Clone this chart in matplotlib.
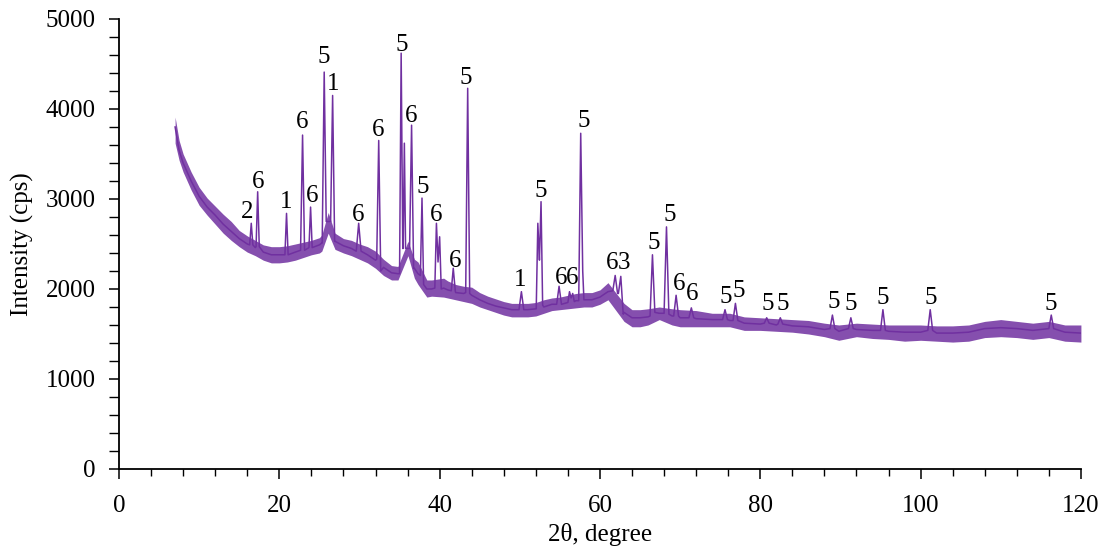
import matplotlib
matplotlib.use("Agg")
import matplotlib.pyplot as plt
from matplotlib.ticker import MultipleLocator

plt.rcParams['font.family'] = ['Liberation Serif', 'DejaVu Serif']

# ---- background (noise band) ----
bg_x = [7.0, 7.5, 8, 9, 10, 11, 12, 13, 14, 15, 16, 17, 18, 19, 20, 21, 22, 23, 24, 25,
        25.3, 26.1, 26.95, 28, 29, 30, 31, 32, 33, 34, 34.8, 36.05, 36.85, 37.3, 38.4, 39,
        40.5, 41, 42, 43,
        44, 45, 46, 47, 48, 49, 50, 51, 52, 53, 54, 55, 56, 57, 58, 59, 60, 61, 63,
        64, 65, 66, 67.4, 69, 70, 72, 74, 76.2, 78, 80, 82, 84, 86, 88, 89.8, 92, 94,
        96, 98, 100, 102, 104, 106, 108, 110, 112, 114, 116, 118, 120]
bg_mid = [3800, 3540, 3400, 3200, 3030, 2910, 2820, 2720, 2640, 2560, 2500, 2460, 2410,
          2380, 2380, 2390, 2410, 2440, 2460, 2490, 2510, 2750, 2530, 2480, 2450, 2420,
          2380, 2320, 2240, 2180, 2170, 2450, 2230, 2170, 2000, 2000, 2010, 1990, 1960,
          1950, 1930,
          1880, 1840, 1810, 1790, 1770, 1770, 1770, 1780, 1800, 1830, 1840, 1850, 1870,
          1880, 1880, 1910, 1970, 1740, 1680, 1680, 1690, 1730, 1700, 1680, 1670, 1660,
          1650, 1620, 1610, 1600, 1590, 1580, 1550, 1530, 1550, 1540, 1530, 1520, 1520,
          1510, 1510, 1520, 1560, 1570, 1560, 1540, 1560, 1520, 1510]
bg_lo = [3620, 3430, 3300, 3100, 2930, 2820, 2720, 2620, 2540, 2470, 2410, 2370, 2320,
         2290, 2290, 2300, 2320, 2350, 2380, 2400, 2420, 2620, 2440, 2400, 2370, 2330,
         2290, 2230, 2150, 2100, 2100, 2370, 2120, 2050, 1910, 1920, 1910, 1900, 1880,
         1860, 1840,
         1800, 1770, 1740, 1710, 1690, 1690, 1690, 1700, 1730, 1760, 1770, 1780, 1790,
         1800, 1800, 1830, 1880, 1640, 1580, 1580, 1600, 1660, 1600, 1580, 1580, 1580,
         1580, 1540, 1540, 1530, 1520, 1500, 1470, 1430, 1470, 1450, 1440, 1420, 1430,
         1420, 1410, 1420, 1460, 1470, 1460, 1440, 1460, 1420, 1410]
bg_hi = [3910, 3650, 3500, 3300, 3130, 3010, 2920, 2830, 2750, 2650, 2590, 2540, 2490,
         2470, 2470, 2480, 2500, 2520, 2540, 2570, 2600, 2850, 2620, 2560, 2540, 2500,
         2470, 2420, 2330, 2260, 2250, 2530, 2330, 2300, 2100, 2100, 2120, 2090, 2050,
         2030, 2020,
         1960, 1920, 1890, 1860, 1840, 1840, 1840, 1850, 1880, 1900, 1910, 1930, 1950,
         1960, 1960, 1990, 2070, 1840, 1770, 1770, 1780, 1800, 1780, 1770, 1760, 1730,
         1730, 1690, 1680, 1670, 1660, 1650, 1620, 1600, 1620, 1610, 1600, 1600, 1600,
         1590, 1590, 1600, 1640, 1660, 1640, 1620, 1640, 1600, 1600]

# ---- diffraction peaks ----
pk_x = [16.5, 17.3, 20.9, 22.9, 23.9, 25.6, 26.65, 29.9, 32.4, 35.2, 35.6, 36.5, 37.8,
        39.6, 40.0, 41.7, 43.5, 50.2, 52.25, 52.65, 54.9, 56.2, 56.6, 57.6, 61.9, 62.6,
        66.55, 68.3, 69.5, 71.4, 75.6, 76.9, 80.8, 82.5, 89.0, 91.3, 95.3, 101.2, 116.3]
pk_h = [2730, 3080, 2840, 3710, 2910, 4410, 4150, 2730, 3650, 4620, 3620, 3820, 3010,
        2730, 2580, 2230, 4230, 1970, 2730, 2970, 2030, 1970, 1950, 3730, 2150, 2140,
        2380, 2690, 1930, 1790, 1770, 1840, 1680, 1680, 1710, 1680, 1770, 1770, 1710]
pk_left = [2490, 2470, 2380, 2430, 2460, 2510, 2750, 2420, 2330, 2170, 2450, 2450, 2150,
           2010, 2300, 1980, 1960, 1770, 1780, 2320, 1830, 1850, 1900, 1870, 1980, 1950,
           1700, 1730, 1700, 1680, 1660, 1650, 1620, 1610, 1560, 1560, 1540, 1540, 1560]
pk_right = [2490, 2470, 2380, 2430, 2460, 2750, 2530, 2420, 2200, 2450, 2450, 2230, 2050,
            2300, 2000, 1980, 1950, 1770, 2320, 1820, 1830, 1900, 1860, 2200, 1950, 1720,
            1740, 1720, 1700, 1680, 1660, 1650, 1620, 1610, 1560, 1560, 1540, 1540, 1560]
pk_w = [0.2, 0.2, 0.2, 0.25, 0.2, 0.25, 0.25, 0.3, 0.25, 0.2, 0.15, 0.25, 0.2,
        0.2, 0.2, 0.25, 0.25, 0.3, 0.2, 0.2, 0.3, 0.2, 0.2, 0.25, 0.3, 0.3,
        0.3, 0.3, 0.3, 0.3, 0.3, 0.3, 0.3, 0.3, 0.3, 0.3, 0.3, 0.3, 0.3]

# ---- phase labels ----
lab_text = ['2', '6', '1', '6', '6', '5', '1', '6', '6', '5', '6', '5', '6', '6', '5',
            '1', '5', '6', '6', '5', '6', '3', '5', '5', '6', '6', '5', '5', '5', '5',
            '5', '5', '5', '5', '5']
lab_x = [16.0, 17.3, 20.9, 22.9, 24.1, 25.6, 26.65, 29.8, 32.3, 35.25, 36.5, 37.9, 39.5,
         41.9, 43.3, 50.0, 52.6, 55.1, 56.5, 58.0, 61.5, 63.0, 66.7, 68.7, 69.9, 71.5,
         75.7, 77.3, 80.9, 82.8, 89.2, 91.3, 95.3, 101.3, 116.2]
lab_y = [2856, 3190, 2967, 3856, 3033, 4578, 4278, 2822, 3767, 4711, 3922, 3133, 2822,
         2311, 4344, 2100, 3089, 2122, 2122, 3867, 2289, 2289, 2511, 2822, 2056, 1944,
         1911, 1978, 1833, 1833, 1856, 1833, 1900, 1900, 1833]

color = '#7030A0'

# assemble trace
pts = []
for x, y in zip(bg_x, bg_mid):
    inside = any((px - w) < x < (px + w) for px, w in zip(pk_x, pk_w))
    if not inside:
        pts.append((x, y))
for px, h, bl, br, w in zip(pk_x, pk_h, pk_left, pk_right, pk_w):
    pts.append((px - w, bl))
    pts.append((px, h))
    pts.append((px + w, br))
pts.sort(key=lambda p: p[0])
tx = [p[0] for p in pts]
ty = [p[1] for p in pts]

fig = plt.figure(figsize=(11.1, 5.5), dpi=100)
ax = fig.add_axes([0.1072, 0.1473, 0.8666, 0.8182])

ax.fill_between(bg_x, bg_lo, bg_hi, color=color, alpha=0.85, lw=0)
ax.plot(tx, ty, color=color, lw=1.1)

for t, x, y in zip(lab_text, lab_x, lab_y):
    ax.text(x, y, t, ha='center', va='center', fontsize=18, color='black')

ax.set_xlim(0, 120)
ax.set_ylim(0, 5000)
ax.xaxis.set_major_locator(MultipleLocator(20))
ax.xaxis.set_minor_locator(MultipleLocator(4))
ax.yaxis.set_major_locator(MultipleLocator(1000))
ax.yaxis.set_minor_locator(MultipleLocator(200))
ax.tick_params(axis='both', which='major', direction='out', length=7, width=1.1,
               labelsize=18, colors='black')
ax.tick_params(axis='x', which='minor', direction='out', length=5, width=1.0)
ax.tick_params(axis='y', which='minor', direction='out', length=7, width=1.0)
ax.tick_params(axis='x', which='major', pad=12)
ax.tick_params(axis='y', which='major', pad=10)
for s in ['top', 'right']:
    ax.spines[s].set_visible(False)
for s in ['left', 'bottom']:
    ax.spines[s].set_linewidth(1.3)

ax.set_xlabel('2θ, degree', fontsize=18, labelpad=4)
ax.set_ylabel('Intensity (cps)', fontsize=18, labelpad=8)

fig.savefig('out.png', dpi=100)
